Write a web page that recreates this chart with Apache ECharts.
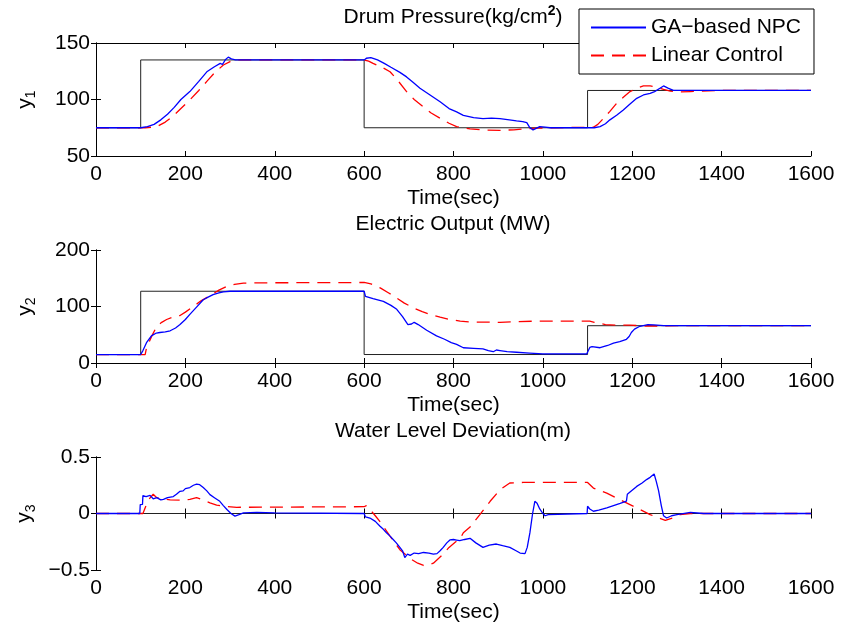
<!DOCTYPE html>
<html lang="en">
<head>
    <meta charset="UTF-8" />
    <title>Drum boiler responses</title>
    <script src="https://cdn.jsdelivr.net/npm/echarts@6/dist/echarts.min.js"></script>
</head>
<body style="margin:0">
<div id="main" style="width: 841px;height:635px;"></div>
<script type="text/javascript">
    // time ticks shared by all three panels
    var timeTicks = [0, 200, 400, 600, 800, 1000, 1200, 1400, 1600];

    // panel 1 : drum pressure, [time, value]
    var y1Ref = [[0,75],[100,75],[100,135],[600,135],[600,75],[1100,75],[1100,108],[1600,108]];
    var y1Ga = [[0,75],[100,75],[115,76],[130,78],[145,82],[160,87],[175,93],[190,100],[210,107],[230,116],[248,124.5],
        [265,129],[278,132],[283,131],[290,135.5],[296,137.5],[303,136],[312,135],[350,135],[600,135],[605,136.5],[615,137],
        [630,135],[645,132],[660,128.5],[680,124],[695,120],[710,115],[725,110],[740,106],[755,102],[770,98],[790,92],
        [807,89],[822,86],[845,84],[866,83],[885,83.5],[904,83],[925,82],[941,81],[955,80.5],[964,79.5],[970,75.5],
        [978,73],[985,74.5],[993,76],[1005,75.5],[1016,75],[1115,75],[1128,76],[1140,78.5],[1150,82],[1165,86],
        [1180,90.7],[1195,96],[1210,101],[1225,104],[1240,105.5],[1250,107],[1253,106],[1262,110],[1270,112],[1280,110],
        [1292,108],[1310,108],[1600,108]];
    var y1Lin = [[0,75],[110,75],[125,75.5],[136,76],[155,80],[173,85.4],[190,92],[210,99.6],[230,108],[248,116],
        [265,123.5],[285,130.5],[300,133.5],[318,135],[600,135],[610,134],[620,132],[640,128.5],[658,124.6],[675,117],
        [695,107],[712,100],[732,93.6],[750,88],[770,83.4],[790,79],[807,76],[837,74],[866,73],[904,72.7],[935,73.2],
        [956,74],[985,74.6],[1016,75],[1113,75.5],[1123,78],[1135,83],[1150,89.5],[1165,96.6],[1180,102],[1195,107],
        [1210,110],[1225,112],[1240,112],[1255,111],[1270,109],[1285,107.5],[1300,106.6],[1330,107],[1400,108],[1600,108]];

    // panel 2 : electric output
    var y2Ref = [[0,15],[100,15],[100,127],[600,127],[600,15],[1100,15],[1100,66],[1600,66]];
    var y2Ga = [[0,15],[100,15],[105,22],[113,36],[124,48],[135,53],[143,54],[155,55],[166,57],[178,62],[188,68],
        [200,77],[210,86],[225,99],[240,112],[252,117],[262,121],[275,124],[285,126],[300,127],[600,127],[603,118],
        [620,114],[643,109],[660,102],[673,95],[686,82],[698,68],[706,69],[712,72],[721,68],[740,58],[762,48],[780,42],
        [795,36],[807,33],[822,27],[845,26],[866,25],[878,22],[889,20],[896,23],[904,22],[920,20],[941,19],[970,17.5],
        [1000,16],[1098,16],[1105,27.5],[1110,29],[1128,27],[1145,31],[1158,35],[1172,38],[1187,42],[1193,47],
        [1198,54],[1205,60],[1217,65],[1235,68],[1248,67.5],[1270,66],[1600,66]];
    var y2Lin = [[0,15],[110,15],[113,27],[125,48],[136,65],[147,72],[158,77],[175,82],[188,84],[200,90],[218,100],
        [235,110],[255,119],[275,129],[293,135.6],[310,139],[330,141.5],[400,142],[600,142.5],[615,140],[636,133],
        [655,124],[673,115],[690,106],[710,97.7],[730,91],[748,86],[770,81],[792,77],[815,74],[837,72.5],[904,72],
        [978,74],[1105,74],[1115,72],[1140,68],[1165,67],[1195,67],[1230,65.5],[1260,65.5],[1300,66],[1600,66]];

    // panel 3 : water level deviation
    var y3Ref = [[0,0],[1600,0]];
    var y3Ga = [[0,0],[98,0],[99,0.079],[104,0.08],[105,0.158],[112,0.15],[121,0.16],[128,0.13],[136,0.14],[145,0.12],
        [151,0.125],[160,0.14],[173,0.15],[180,0.17],[188,0.196],[195,0.2],[200,0.22],[210,0.23],[218,0.25],[225,0.26],
        [232,0.255],[240,0.23],[248,0.2],[255,0.167],[265,0.14],[277,0.108],[285,0.07],[293,0.035],[302,0],[311,-0.023],
        [320,-0.01],[330,0.006],[360,0.01],[400,0.005],[600,0],[603,-0.03],[613,-0.04],[625,-0.07],[635,-0.11],
        [643,-0.14],[650,-0.17],[658,-0.2],[665,-0.23],[672,-0.26],[680,-0.3],[686,-0.33],[691,-0.39],[697,-0.36],
        [703,-0.37],[712,-0.35],[722,-0.355],[733,-0.345],[745,-0.35],[755,-0.36],[763,-0.355],[770,-0.33],[777,-0.3],
        [785,-0.26],[792,-0.234],[800,-0.23],[807,-0.235],[814,-0.24],[825,-0.23],[837,-0.22],[850,-0.26],[866,-0.3],
        [880,-0.28],[896,-0.27],[910,-0.285],[926,-0.3],[940,-0.33],[949,-0.35],[960,-0.355],[965,-0.3],[971,-0.17],
        [977,0],[982,0.108],[987,0.09],[993,0.04],[1000,0],[1005,-0.02],[1012,-0.01],[1016,0],[1099,0],[1100,0.064],
        [1105,0.04],[1113,0.02],[1125,0.03],[1143,0.05],[1158,0.07],[1173,0.09],[1187,0.11],[1189,0.17],[1195,0.19],
        [1210,0.24],[1222,0.27],[1232,0.3],[1240,0.32],[1249,0.35],[1254,0.28],[1259,0.2],[1265,0.07],[1270,-0.02],
        [1277,-0.04],[1288,-0.02],[1300,-0.01],[1330,0.01],[1360,0],[1600,0]];
    var y3Lin = [[0,0],[105,0],[117,0.12],[128,0.17],[136,0.14],[150,0.13],[166,0.12],[195,0.117],[210,0.125],
        [225,0.14],[240,0.12],[255,0.094],[270,0.075],[285,0.064],[315,0.055],[600,0.06],[605,0.07],[613,0.035],
        [625,-0.02],[635,-0.07],[658,-0.2],[680,-0.32],[703,-0.4],[720,-0.44],[733,-0.46],[745,-0.455],[755,-0.44],
        [777,-0.36],[790,-0.3],[805,-0.25],[814,-0.23],[822,-0.17],[837,-0.12],[859,-0.01],[882,0.108],[904,0.21],
        [926,0.27],[956,0.275],[1100,0.275],[1113,0.225],[1143,0.18],[1180,0.108],[1210,0.05],[1240,-0.01],
        [1274,-0.06],[1290,-0.04],[1307,-0.01],[1330,0],[1600,0]];

    var panelTitles = ['{a|Drum Pressure(kg/cm}{b|2}{a|)}', '{a|Electric Output (MW)}', '{a|Water Level Deviation(m)}'];
    var yNames = ['{a|y}{b|1}', '{a|y}{b|2}', '{a|y}{b|3}'];
    var yRanges = [[50, 150, 50], [0, 200, 100], [-0.5, 0.5, 0.5]];
    var names = ['GA\u2212based NPC', 'Linear Control'];

    var FONT = 'Liberation Sans, Arial, sans-serif';
    var FS = 21;
    var gridTops = [43, 250, 457];

    var myChart = echarts.init(document.getElementById('main'));

    var grids = [], xAxes = [], yAxes = [], titles = [], series = [];
    for (var i = 0; i < 3; i++) {
        grids.push({left: 96, right: 30, top: gridTops[i], height: 113, show: false});
        titles.push({
            text: panelTitles[i], left: 453, top: gridTops[i] - 39, textAlign: 'center', padding: 0,
            textStyle: {rich: {
                a: {fontFamily: FONT, fontSize: FS, color: '#000', lineHeight: 26, fontWeight: 'normal'},
                b: {fontFamily: FONT, fontSize: 14, color: '#000', lineHeight: 26, verticalAlign: 'top', padding: [0, 0, 10, 0]}
            }}
        });
    }
    // bottom x axes with labels
    for (i = 0; i < 3; i++) {
        xAxes.push({
            type: 'value', gridIndex: i, min: 0, max: 1600, interval: 200,
            name: 'Time(sec)', nameLocation: 'middle', nameGap: 32,
            nameTextStyle: {fontFamily: FONT, fontSize: FS, color: '#000'},
            axisLine: {lineStyle: {color: '#000', width: 1}},
            axisTick: {inside: true, length: 5, lineStyle: {color: '#000'}},
            axisLabel: {fontFamily: FONT, fontSize: FS, color: '#000', margin: 8,
                formatter: function (v) { return String(v); }},
            splitLine: {show: false}
        });
    }
    // top x axes, ticks only
    for (i = 0; i < 3; i++) {
        xAxes.push({
            type: 'value', gridIndex: i, position: 'top', min: 0, max: 1600, interval: 200,
            axisLine: {lineStyle: {color: '#000', width: 1}},
            axisTick: {inside: true, length: 5, lineStyle: {color: '#000'}},
            axisLabel: {show: false}, splitLine: {show: false}
        });
    }
    for (i = 0; i < 3; i++) {
        yAxes.push({
            type: 'value', gridIndex: i, min: yRanges[i][0], max: yRanges[i][1], interval: yRanges[i][2],
            name: yNames[i], nameLocation: 'middle', nameGap: 58,
            nameTextStyle: {rich: {
                a: {fontFamily: FONT, fontSize: FS, color: '#000', lineHeight: 26},
                b: {fontFamily: FONT, fontSize: 14, color: '#000', lineHeight: 26, verticalAlign: 'bottom', padding: [9, 0, 0, 0]}
            }},
            axisLine: {show: true, lineStyle: {color: '#000', width: 1}},
            axisTick: {show: true, inside: true, length: 5, lineStyle: {color: '#000'}},
            axisLabel: {fontFamily: FONT, fontSize: FS, color: '#000', margin: 6,
                formatter: function (v) { return v < 0 ? '\u2212' + (-v) : String(v); }},
            splitLine: {show: false}
        });
    }
    for (i = 0; i < 3; i++) {
        yAxes.push({
            type: 'value', gridIndex: i, position: 'right', min: yRanges[i][0], max: yRanges[i][1], interval: yRanges[i][2],
            axisLine: {show: true, lineStyle: {color: '#000', width: 1}},
            axisTick: {show: true, inside: true, length: 5, lineStyle: {color: '#000'}},
            axisLabel: {show: false}, splitLine: {show: false}
        });
    }

    var refs = [y1Ref, y2Ref, y3Ref], gas = [y1Ga, y2Ga, y3Ga], lins = [y1Lin, y2Lin, y3Lin];
    for (i = 0; i < 3; i++) {
        series.push({
            name: 'ref', type: 'line', xAxisIndex: i, yAxisIndex: i, data: refs[i], symbol: 'none',
            lineStyle: {color: '#222', width: 1}, z: 1, silent: true
        });
        series.push({
            name: names[1], type: 'line', xAxisIndex: i, yAxisIndex: i, data: lins[i], symbol: 'none',
            lineStyle: {color: '#ff0000', width: 1.3, type: [13, 8]}, itemStyle: {color: '#ff0000'}, z: 2
        });
        series.push({
            name: names[0], type: 'line', xAxisIndex: i, yAxisIndex: i, data: gas[i], symbol: 'none',
            lineStyle: {color: '#0000ff', width: 1.3}, itemStyle: {color: '#0000ff'}, z: 3
        });
    }

    var option = {
        animation: false,
        backgroundColor: '#fff',
        title: titles,
        legend: {
            data: names, orient: 'vertical', left: 579, top: 9,
            padding: [8, 13, 8, 11], itemGap: 7, itemWidth: 55, itemHeight: 20,
            itemStyle: {opacity: 0},
            backgroundColor: '#fff', borderColor: '#000', borderWidth: 1, borderRadius: 0,
            selectedMode: false, z: 10,
            textStyle: {fontFamily: FONT, fontSize: FS, color: '#000'}
        },
        grid: grids,
        xAxis: xAxes,
        yAxis: yAxes,
        series: series
    };
    myChart.setOption(option);
</script>
</body>
</html>
